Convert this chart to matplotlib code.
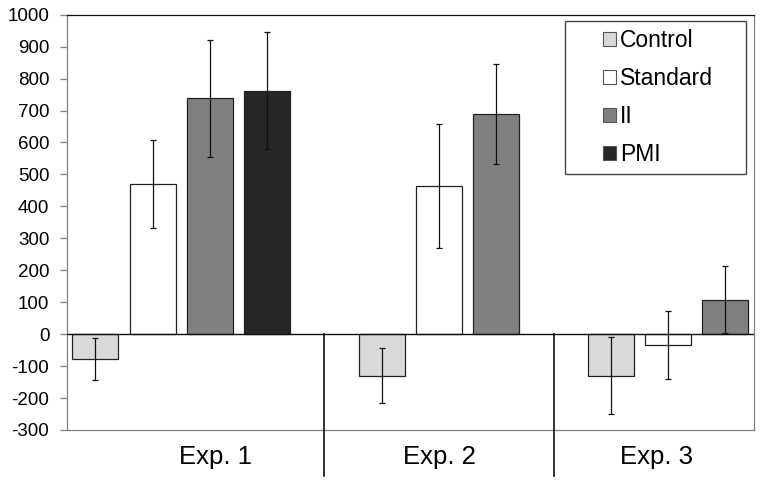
import matplotlib
matplotlib.use("Agg")
import matplotlib.pyplot as plt
from matplotlib.patches import Patch, Rectangle
import matplotlib.transforms as mtransforms

plt.rcParams['font.family'] = ['Liberation Sans', 'DejaVu Sans']

experiments = ['Exp. 1', 'Exp. 2', 'Exp. 3']
series = ['Control', 'Standard', 'II', 'PMI']
colors = ['#d9d9d9', '#ffffff', '#808080', '#262626']

exp1_values = [-79, 469, 738, 762]
exp1_errors = [66, 138, 184, 183]
exp2_values = [-130, 464, 689]
exp2_errors = [86, 195, 156]
exp3_values = [-130, -34, 108]
exp3_errors = [120, 105, 105]

yticks = list(range(-300, 1001, 100))

group_values = [exp1_values, exp2_values, exp3_values]
group_errors = [exp1_errors, exp2_errors, exp3_errors]
group_start = [0, 5, 9]          # slot index of first bar of each group
separators = [4, 8]              # slot positions of separator lines
label_pos = [2.1, 6.0, 9.8]

fig = plt.figure(figsize=(7.62, 4.84), dpi=100)
ax = fig.add_axes([0.0875, 0.1116, 0.902, 0.858])

for g, (vals, errs) in enumerate(zip(group_values, group_errors)):
    for i, (v, e) in enumerate(zip(vals, errs)):
        x = group_start[g] + i
        ax.bar(x, v, width=0.8, color=colors[i], edgecolor='#222222',
               linewidth=0.9, zorder=2)
        ax.errorbar(x, v, yerr=e, fmt='none', ecolor='#111111',
                    elinewidth=0.9, capsize=2.5, capthick=0.9, zorder=3)

ax.set_xlim(-0.5, 11.5)
ax.set_ylim(-300, 1000)
ax.set_yticks(yticks)
ax.set_yticklabels([str(t) for t in yticks], fontsize=13.5)
ax.set_xticks([])
ax.tick_params(axis='y', length=5, width=0.9, pad=7.5, color='#808080')

for name, s in ax.spines.items():
    s.set_color('#111111' if name == 'top' else '#808080')
    s.set_linewidth(0.9)

# zero line
ax.axhline(0, color='#111111', linewidth=1.0, zorder=4)

trans = mtransforms.blended_transform_factory(ax.transData, ax.transAxes)
zero_frac = (0 - (-300)) / 1300.0
for sx in separators:
    ax.plot([sx, sx], [zero_frac, -0.111], transform=trans, color='#111111',
            linewidth=1.2, clip_on=False, zorder=4)

for lbl, lx in zip(experiments, label_pos):
    ax.text(lx, -0.066, lbl, transform=trans, ha='center', va='center',
            fontsize=18.5)

# legend
handles = [Patch(facecolor=c, edgecolor='#555555', linewidth=0.8) for c in colors]
leg = ax.legend(handles, series, loc='upper left',
                bbox_to_anchor=(0.757, 1.004), frameon=False,
                fontsize=16.5, handlelength=0.55, handleheight=0.55,
                handletextpad=0.2, labelspacing=0.66, borderpad=0.2)
ax.add_patch(Rectangle((0.725, 0.6157), 0.263, 0.370,
                       transform=ax.transAxes, fill=False,
                       edgecolor='#444444', linewidth=1.0, zorder=5))

fig.savefig('out.png', dpi=100)
